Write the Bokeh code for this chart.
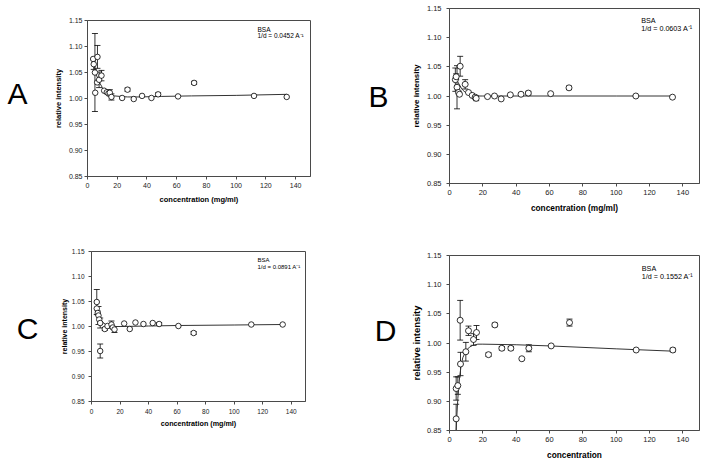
from bokeh.plotting import figure
from bokeh.models import (Whisker, ColumnDataSource, Label, Range1d, FixedTicker,
                          TeeHead, NumeralTickFormatter, LinearAxis)
from bokeh.layouts import column, row
from bokeh.embed import file_html
from bokeh.resources import INLINE

FONT = "Liberation Sans"

x_ticks = [0, 20, 40, 60, 80, 100, 120, 140]
y_ticks = [0.85, 0.90, 0.95, 1.00, 1.05, 1.10, 1.15]

# ---- Panel A (1/d = 0.0452) ----
xA = [3.8, 4.2, 5.0, 5.2, 6.5, 6.7, 7.8, 9.4, 11.2, 13.0, 14.1, 15.0, 16.1, 23.3, 26.9,
      31.1, 36.7, 43.0, 47.5, 60.9, 71.7, 112.0, 134.0]
yA = [1.076, 1.066, 1.050, 1.011, 1.031, 1.080, 1.036, 1.044, 1.015, 1.012, 1.010, 1.011,
      1.003, 1.001, 1.017, 0.999, 1.005, 1.001, 1.008, 1.004, 1.030, 1.005, 1.003]
eA = [0, 0.010, 0.075, 0, 0, 0.022, 0.015, 0.010, 0, 0, 0, 0.006, 0.006, 0, 0.003,
      0, 0, 0, 0.003, 0, 0.003, 0, 0]
fitA_x = [4.5, 5, 6, 7, 8, 10, 12, 15, 18, 22, 27, 35, 50, 70, 100, 134]
fitA_y = [1.065, 1.055, 1.045, 1.038, 1.031, 1.021, 1.014, 1.008, 1.005, 1.004, 1.003,
          1.003, 1.004, 1.005, 1.006, 1.008]

# ---- Panel B (1/d = 0.0603) ----
xB = [3.5, 4.0, 4.5, 5.4, 6.0, 6.4, 9.4, 11.4, 13.6, 15.4, 16.0, 22.8, 27.0, 31.0, 36.5,
      42.9, 47.3, 60.7, 71.7, 111.8, 133.8]
yB = [1.028, 1.033, 1.015, 1.006, 1.003, 1.051, 1.020, 1.006, 1.001, 0.998, 0.996, 0.999,
      1.000, 0.995, 1.002, 1.003, 1.005, 1.004, 1.014, 1.000, 0.998]
eB = [0.020, 0.005, 0.037, 0, 0, 0.017, 0.008, 0, 0, 0.003, 0.004, 0, 0, 0, 0, 0, 0.003,
      0, 0.003, 0, 0]
fitB_x = [4, 5, 6, 7, 8, 10, 12, 14, 17, 20, 30, 60, 100, 134]
fitB_y = [1.030, 1.024, 1.019, 1.014, 1.010, 1.005, 1.002, 1.001, 1.000, 1.000, 1.000,
          1.000, 1.000, 1.000]

# ---- Panel C (1/d = 0.0891) ----
xC = [3.7, 3.7, 4.4, 4.9, 5.4, 6.1, 6.1, 9.3, 11.2, 14.0, 14.9, 16.1, 22.9, 26.8, 30.8,
      36.4, 42.9, 47.4, 60.9, 71.6, 112.0, 134.0]
yC = [1.049, 1.036, 1.027, 1.022, 1.014, 1.007, 0.951, 0.995, 1.001, 1.004, 0.998, 0.994,
      1.006, 0.995, 1.008, 1.005, 1.007, 1.005, 1.001, 0.987, 1.004, 1.004]
eC = [0.025, 0, 0.004, 0.018, 0, 0.010, 0.014, 0.003, 0, 0.007, 0, 0.006, 0, 0, 0, 0, 0,
      0.003, 0, 0.003, 0, 0]
fitC_x = [4, 5, 6, 7, 8, 10, 12, 15, 20, 40, 60, 100, 134]
fitC_y = [1.032, 1.024, 1.017, 1.012, 1.008, 1.004, 1.002, 1.000, 1.000, 1.001, 1.002,
          1.003, 1.004]

# ---- Panel D (1/d = 0.1552) ----
xD = [4.0, 4.0, 5.0, 6.4, 6.6, 9.8, 11.4, 14.4, 16.2, 23.4, 27.2, 31.4, 36.8, 43.4, 47.6,
      61.0, 72.0, 112.0, 134.0]
yD = [0.870, 0.922, 0.927, 1.039, 0.964, 0.985, 1.021, 1.006, 1.018, 0.980, 1.031, 0.991,
      0.991, 0.973, 0.991, 0.995, 1.035, 0.988, 0.988]
eD = [0.025, 0.020, 0.015, 0.034, 0.020, 0.016, 0.008, 0.010, 0.012, 0.003, 0.003, 0.003,
      0.003, 0, 0.006, 0, 0.006, 0, 0.003]
fitD_x = [4, 4.5, 5, 6, 7, 8, 10, 12, 14, 17, 20, 40, 60, 100, 134]
fitD_y = [0.850, 0.880, 0.905, 0.940, 0.962, 0.975, 0.987, 0.993, 0.996, 0.998, 0.998,
          0.997, 0.995, 0.990, 0.986]

AXC = "#4a4a4a"


def panel(letter, qtext, xs, ys, es, fx, fy, xlabel, W, H, bl, br, bt, bb,
          tick_fs, xlab_fs, ylab_fs, note_fs, msize,
          ytick_so, ylab_so, xtick_so, xlab_so, letter_frac, letter_so, note_pos):
    p = figure(width=W, height=H, output_backend="svg", toolbar_location=None,
               x_range=Range1d(0, 150), y_range=Range1d(0.85, 1.15),
               min_border_left=bl, min_border_right=br, min_border_top=bt,
               min_border_bottom=bb, frame_align=False)
    p.extra_y_ranges = {"letter": Range1d(0, 1)}
    p.grid.visible = False
    p.background_fill_color = "white"
    p.border_fill_color = "white"
    p.outline_line_color = AXC
    p.outline_line_width = 1
    for ax in (p.xaxis[0], p.yaxis[0]):
        ax.axis_line_color = AXC
        ax.major_tick_line_color = AXC
        ax.minor_tick_line_color = None
        ax.major_tick_in = 0
        ax.major_tick_out = 3
        ax.major_label_text_font = FONT
        ax.major_label_text_font_size = f"{tick_fs}px"
        ax.major_label_text_color = "#222222"
        ax.axis_label_text_font = FONT
        ax.axis_label_text_font_style = "bold"
        ax.axis_label_text_color = "black"
    p.xaxis[0].major_label_standoff = xtick_so
    p.yaxis[0].major_label_standoff = ytick_so
    p.xaxis[0].ticker = FixedTicker(ticks=x_ticks)
    p.yaxis[0].ticker = FixedTicker(ticks=y_ticks)
    p.yaxis[0].formatter = NumeralTickFormatter(format="0.00")
    p.xaxis[0].axis_label = xlabel
    p.yaxis[0].axis_label = "relative intensity"
    p.xaxis[0].axis_label_text_font_size = f"{xlab_fs}px"
    p.yaxis[0].axis_label_text_font_size = f"{ylab_fs}px"
    p.xaxis[0].axis_label_standoff = xlab_so
    p.yaxis[0].axis_label_standoff = ylab_so

    # panel letter, drawn as the only tick label of an extra left axis
    la = LinearAxis(y_range_name="letter", ticker=FixedTicker(ticks=[letter_frac]),
                    major_label_overrides={letter_frac: letter})
    la.axis_line_color = None
    la.major_tick_line_color = None
    la.minor_tick_line_color = None
    la.major_tick_in = 0
    la.major_tick_out = 0
    la.major_label_standoff = letter_so
    la.major_label_text_font = FONT
    la.major_label_text_font_size = "30px"
    la.major_label_text_color = "black"
    p.add_layout(la, "left")

    # fitted curve
    p.line(fx, fy, line_color="#333333", line_width=1)

    # error bars
    ex = [x for x, e in zip(xs, es) if e > 0]
    ey = [y for y, e in zip(ys, es) if e > 0]
    ee = [e for e in es if e > 0]
    src = ColumnDataSource(dict(x=ex, lower=[y - e for y, e in zip(ey, ee)],
                                upper=[y + e for y, e in zip(ey, ee)]))
    w = Whisker(base="x", lower="lower", upper="upper", source=src,
                line_color="black", line_width=0.8, level="underlay",
                upper_head=TeeHead(size=6, line_color="black", line_width=0.8),
                lower_head=TeeHead(size=6, line_color="black", line_width=0.8))
    p.add_layout(w)

    p.scatter(xs, ys, marker="circle", size=msize, fill_color="white",
              line_color="black", line_width=0.8)

    nx, ny1, ny2 = note_pos
    fh = H - bt - bb
    p.add_layout(Label(x=nx, y=fh - ny1, x_units="screen", y_units="screen", text="BSA",
                       text_font=FONT, text_font_size=f"{note_fs}px", text_align="left",
                       text_baseline="middle", text_color="black"))
    p.add_layout(Label(x=nx, y=fh - ny2, x_units="screen", y_units="screen", text=qtext,
                       text_font=FONT, text_font_size=f"{note_fs}px", text_align="left",
                       text_baseline="middle", text_color="black"))
    return p


pA = panel("A", "1/d = 0.0452 A\u207b\u00b9", xA, yA, eA, fitA_x, fitA_y,
           "concentration (mg/ml)", 350, 230, 87, 40, 20, 54,
           7, 7.5, 7.5, 6.5, 5.5, 2, 3, 3, 4, 0.532, 23, (170, 8.5, 15.2))
pB = panel("B", "1/d = 0.0603 A\u207b\u00b9", xB, yB, eB, fitB_x, fitB_y,
           "concentration (mg/ml)", 355, 230, 99, 6, 8, 47,
           7.5, 8.3, 8, 7.2, 6, 5, 3, 3, 5, 0.496, 20, (191.7, 12, 20.3))
pC = panel("C", "1/d = 0.0891 A\u207b\u00b9", xC, yC, eC, fitC_x, fitC_y,
           "concentration (mg/ml)", 350, 235, 91, 45, 21, 64,
           6.5, 7.2, 7, 6, 5.5, 4, 1, 4, 2, 0.485, 19, (166, 8.7, 15.3))
pD = panel("D", "1/d = 0.1552 A\u207b\u00b9", xD, yD, eD, fitD_x, fitD_y,
           "concentration", 355, 235, 99, 6, 25, 35,
           7.5, 8.3, 9.5, 7.2, 6, 5, 2, 3, 5, 0.571, 11, (192.3, 13, 21.3))

layout = column(row(pA, pB), row(pC, pD))
open("out.html", "w").write(file_html(layout, INLINE))
